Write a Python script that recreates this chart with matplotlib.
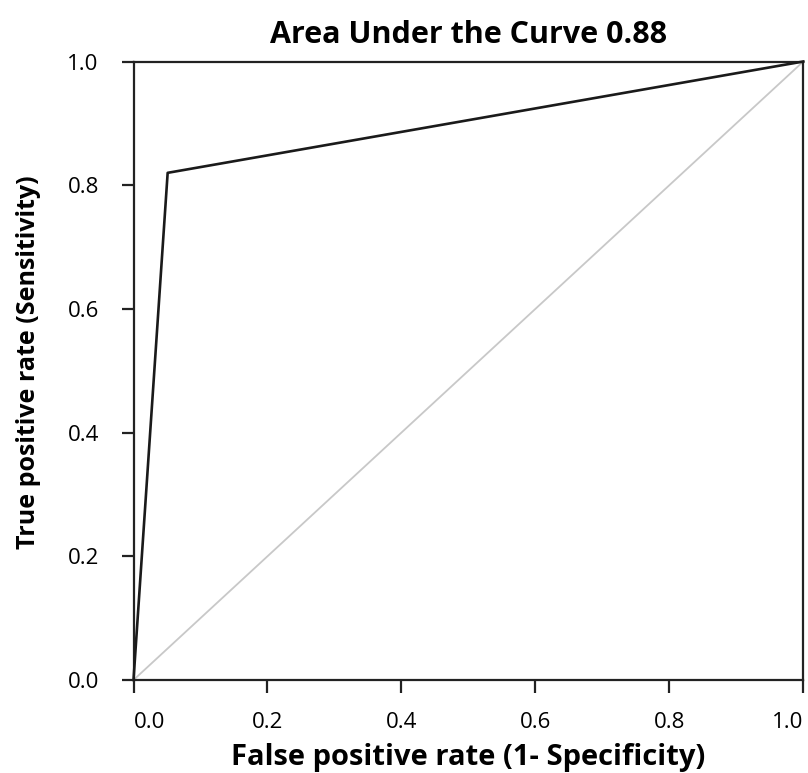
import matplotlib
matplotlib.use("Agg")
import matplotlib.pyplot as plt

plt.rcParams['font.family'] = ['Open Sans', 'DejaVu Sans']

# Data
fpr = [0.0, 0.051, 1.0]
tpr = [0.0, 0.82, 1.0]
diag_x = [0.0, 1.0]
diag_y = [0.0, 1.0]
ticks = [0.0, 0.2, 0.4, 0.6, 0.8, 1.0]
tick_labels = ["0.0", "0.2", "0.4", "0.6", "0.8", "1.0"]
title = "Area Under the Curve 0.88"
xlabel = "False positive rate (1- Specificity)"
ylabel = "True positive rate (Sensitivity)"

W, H = 808, 773
L, R, T, B = 133.5, 803.3, 61.5, 680.0
fig = plt.figure(figsize=(W/100, H/100), dpi=100)
ax = fig.add_axes([L/W, 1 - B/H, (R-L)/W, (B-T)/H])

ax.plot(diag_x, diag_y, color="#c8c8c8", lw=1.3, clip_on=False, zorder=2)
ax.plot(fpr, tpr, color="#1a1a1a", lw=1.9, clip_on=False, zorder=3)

ax.set_xlim(0, 1)
ax.set_ylim(0, 1)
ax.set_xticks(ticks)
ax.set_yticks(ticks)
ax.set_xticklabels(tick_labels, fontsize=16)
ax.set_yticklabels(tick_labels, fontsize=16)
xl = ax.get_xticklabels()
xl[0].set_horizontalalignment('left')
xl[-1].set_horizontalalignment('right')

for s in ax.spines.values():
    s.set_linewidth(1.6)
    s.set_color("#222222")
ax.tick_params(axis='both', direction='out', length=9, width=1.6, color="#222222")
ax.tick_params(axis='x', pad=14)
ax.tick_params(axis='y', pad=16)

ax.set_title(title, fontsize=22, fontweight='bold', pad=0, y=(B-43)/(B-T), va='baseline')
ax.set_xlabel(xlabel, fontsize=21, fontweight='bold')
ax.xaxis.label.set_va('baseline')
ax.xaxis.set_label_coords(0.5, (B-765)/(B-T))
ax.set_ylabel(ylabel, fontsize=18, fontweight='bold')
ax.yaxis.label.set_va('baseline')
ax.yaxis.set_label_coords((35-L)/(R-L), (B-362)/(B-T))

fig.savefig("out.png", dpi=100)
